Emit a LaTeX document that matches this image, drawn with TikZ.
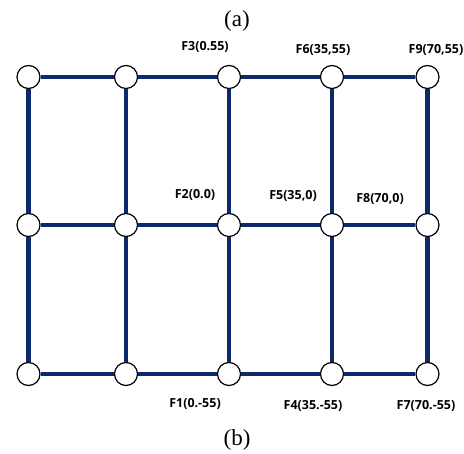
\documentclass[tikz,border=0pt]{standalone}
\usepackage{fontspec}
\setmainfont{Liberation Serif}
\newfontfamily\lblfont{Open Sans}
\definecolor{navy}{HTML}{0B2A6B}
\begin{document}
\begin{tikzpicture}[x=1pt,y=-1pt,
  fnode/.style={circle,draw=black,line width=1.2pt,fill=white,minimum size=23pt,inner sep=0pt},
  link/.style={draw=navy,line width=4.6pt},
  lbl/.style={font=\lblfont\bfseries\fontsize{12.5}{14}\selectfont,inner sep=0pt},
  captxt/.style={font=\fontsize{23}{26}\selectfont,inner sep=0pt}]
\useasboundingbox (0,0) rectangle (464,454);
% nodes
\node[fnode] (a1) at (28.5,77) {};
\node[fnode] (a2) at (126,77) {};
\node[fnode] (a3) at (229,77) {};
\node[fnode] (a4) at (332,77) {};
\node[fnode] (a5) at (427.5,77) {};
\node[fnode] (b1) at (28.5,225) {};
\node[fnode] (b2) at (126,225) {};
\node[fnode] (b3) at (229,225) {};
\node[fnode] (b4) at (332,225) {};
\node[fnode] (b5) at (427.5,225) {};
\node[fnode] (c1) at (28.5,374) {};
\node[fnode] (c2) at (126,374) {};
\node[fnode] (c3) at (229,374) {};
\node[fnode] (c4) at (332,374) {};
\node[fnode] (c5) at (427.5,374) {};
% links
\path[link] (a1)--(a2) (a2)--(a3) (a3)--(a4) (a4)--(a5);
\path[link] (b1)--(b2) (b2)--(b3) (b3)--(b4) (b4)--(b5);
\path[link] (c1)--(c2) (c2)--(c3) (c3)--(c4) (c4)--(c5);
\path[link] (a1)--(b1) (b1)--(c1);
\path[link] (a2)--(b2) (b2)--(c2);
\path[link] (a3)--(b3) (b3)--(c3);
\path[link] (a4)--(b4) (b4)--(c4);
\path[link] (a5)--(b5) (b5)--(c5);
% labels
\node[lbl] (l3) at (205,47) {F3(0.55)};
\node[lbl] (l6) at (323,50) {F6(35,55)};
\node[lbl] (l9) at (436,50) {F9(70,55)};
\node[lbl] (l2) at (195,195) {F2(0.0)};
\node[lbl] (l5) at (293,196) {F5(35,0)};
\node[lbl] (l8) at (380,199) {F8(70,0)};
\node[lbl] (l1) at (195,404) {F1(0.-55)};
\node[lbl] (l4) at (313,406) {F4(35.-55)};
\node[lbl] (l7) at (426,406) {F7(70.-55)};
\node[captxt] (capa) at (237,21) {(a)};
\node[captxt] (capb) at (237,440) {(b)};
\end{tikzpicture}
\end{document}
